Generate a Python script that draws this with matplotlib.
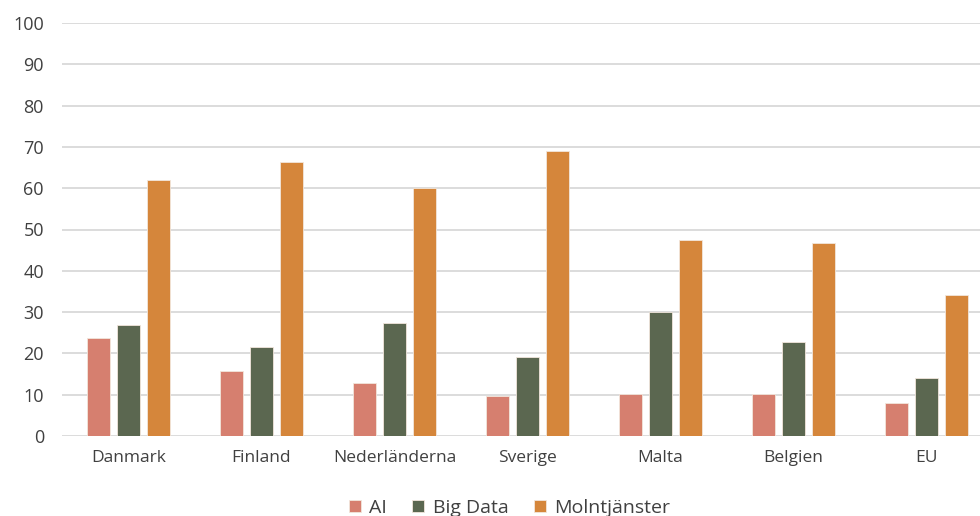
import numpy as np
import matplotlib.pyplot as plt

countries = ['Danmark', 'Finland', 'Nederländerna', 'Sverige', 'Malta', 'Belgien', 'EU']
ai = [23.8, 15.7, 12.9, 9.8, 10.1, 10.1, 7.9]
big_data = [26.9, 21.6, 27.3, 19.1, 30.0, 22.8, 14.1]
moln = [62.0, 66.3, 60.1, 69.1, 47.4, 46.7, 34.1]

series = [('AI', ai, '#D67F6F'),
          ('Big Data', big_data, '#5B6750'),
          ('Molntjänster', moln, '#D5863B')]

plt.rcParams['font.family'] = ['Open Sans', 'DejaVu Sans']
text_color = '#404040'

fig = plt.figure(figsize=(9.8, 5.16), dpi=100)
# plot area runs a little past the right edge of the canvas
ax = fig.add_axes([62 / 980, 1 - 436 / 516, 931 / 980, (436 - 23) / 516])

x = np.arange(len(countries))
width = 0.175
step = 0.227
for i, (name, vals, color) in enumerate(series):
    ax.bar(x + (i - 1) * step, vals, width, color=color, label=name,
           edgecolor='#F2E6DC', linewidth=0.6, zorder=3)

ax.set_xlim(-0.5, len(countries) - 0.5)
ax.set_ylim(0, 100)
ax.set_yticks(np.arange(0, 101, 10))
ax.set_xticks(x)
ax.set_xticklabels(countries)
ax.grid(axis='y', color='#D9D9D9', linewidth=1.3, zorder=0)
for s in ax.spines.values():
    s.set_visible(False)
ax.tick_params(axis='y', length=0, pad=13, labelsize=13, labelcolor=text_color)
ax.tick_params(axis='x', length=0, pad=10, labelsize=12.5, labelcolor=text_color)

leg = fig.legend(loc='lower center', bbox_to_anchor=(0.52, -0.035), ncol=3,
                 frameon=False, fontsize=14, handlelength=0.6, handleheight=0.6,
                 handletextpad=0.45, columnspacing=1.3)
for t in leg.get_texts():
    t.set_color(text_color)

fig.savefig('out.png', dpi=100)
